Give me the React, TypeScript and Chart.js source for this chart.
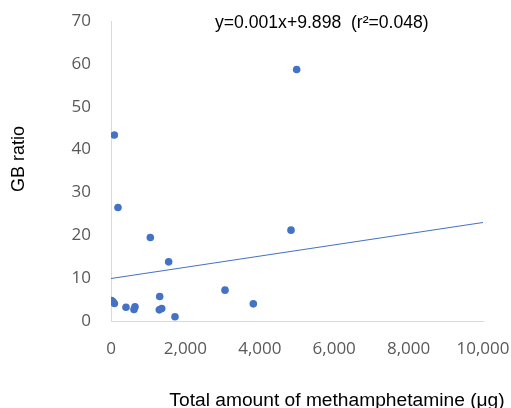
import React, { useEffect, useRef } from "react";
import { Chart, registerables } from "chart.js";

Chart.register(...registerables);

const methamphetamine = [15, 55, 90, 89, 188, 403, 618, 645, 1057, 1299, 1309, 1363, 1550, 1720, 3065, 3826, 4839, 4991];
const gbRatio = [4.8, 4.5, 4.1, 43.4, 26.5, 3.2, 2.7, 3.3, 19.5, 2.6, 5.7, 2.9, 13.8, 1.0, 7.2, 4.0, 21.2, 58.7];
const trendX = [0, 10000];
const trendY = [9.898, 23.0];
const xTicks = [0, 2000, 4000, 6000, 8000, 10000];
const yTicks = [0, 10, 20, 30, 40, 50, 60, 70];
const equationText = "y=0.001x+9.898  (r\u00B2=0.048)";
const xTitle = "Total amount of methamphetamine (\u03BCg)";
const yTitle = "GB ratio";

const textPlugin = {
  id: "textPlugin",
  afterDraw(chart: any) {
    const ctx = chart.ctx;
    ctx.save();
    ctx.fillStyle = "#000000";
    ctx.font = "17.6px 'Liberation Sans', Arial, sans-serif";
    ctx.textAlign = "left";
    ctx.textBaseline = "alphabetic";
    ctx.fillText(equationText, 215, 28);

    ctx.font = "19.2px 'Liberation Sans', Arial, sans-serif";
    ctx.textAlign = "center";
    ctx.textBaseline = "middle";
    ctx.fillText(xTitle, 337, 401);

    ctx.translate(19, 159);
    ctx.rotate(-Math.PI / 2);
    ctx.font = "18px 'Liberation Sans', Arial, sans-serif";
    ctx.fillText(yTitle, 0, 0);
    ctx.restore();
  },
};

export default function App() {
  const ref = useRef<HTMLCanvasElement | null>(null);
  useEffect(() => {
    if (!ref.current) return;
    const tickFont = { family: "'Open Sans', sans-serif", size: 17 };
    const chart = new Chart(ref.current, {
      type: "scatter",
      data: {
        datasets: [
          {
            label: "GB ratio",
            data: methamphetamine.map((x, i) => ({ x, y: gbRatio[i] })),
            backgroundColor: "#4472C4",
            borderColor: "#4472C4",
            pointRadius: 3.8,
            pointBorderWidth: 0,
            order: 1,
          },
          {
            type: "line",
            label: "Trend",
            data: trendX.map((x, i) => ({ x, y: trendY[i] })),
            borderColor: "#4472C4",
            borderWidth: 1.1,
            pointRadius: 0,
            fill: false,
            order: 2,
          } as any,
        ],
      },
      options: {
        responsive: false,
        animation: false,
        layout: { padding: { left: 0, right: 28, top: 21, bottom: 0 } },
        plugins: {
          legend: { display: false },
          tooltip: { enabled: false },
          title: { display: false },
        },
        scales: {
          x: {
            type: "linear",
            min: 0,
            max: 10000,
            afterBuildTicks: (scale: any) => {
              scale.ticks = xTicks.map((v) => ({ value: v }));
            },
            afterFit: (scale: any) => {
              scale.height = 87;
              scale.paddingLeft = 0;
              scale.paddingRight = 0;
            },
            grid: { display: false, drawTicks: false },
            border: { display: true, color: "#D9D9D9", width: 1 },
            ticks: {
              font: tickFont,
              color: "#595959",
              padding: 18,
              maxRotation: 0,
              callback: (v: any) => Number(v).toLocaleString("en-US"),
            },
          },
          y: {
            type: "linear",
            min: 0,
            max: 70,
            afterBuildTicks: (scale: any) => {
              scale.ticks = yTicks.map((v) => ({ value: v }));
            },
            afterFit: (scale: any) => {
              scale.width = 111;
              scale.paddingTop = 0;
              scale.paddingBottom = 0;
            },
            grid: { display: false, drawTicks: false },
            border: { display: true, color: "#D9D9D9", width: 1 },
            ticks: {
              font: tickFont,
              color: "#595959",
              padding: 20,
            },
          },
        },
      },
      plugins: [textPlugin],
    });
    return () => chart.destroy();
  }, []);
  return (
    <div style={{ position: "absolute", left: 0, top: 0, width: 511, height: 408, background: "#fff" }}>
      <canvas ref={ref} width={511} height={408} style={{ display: "block" }} />
    </div>
  );
}
